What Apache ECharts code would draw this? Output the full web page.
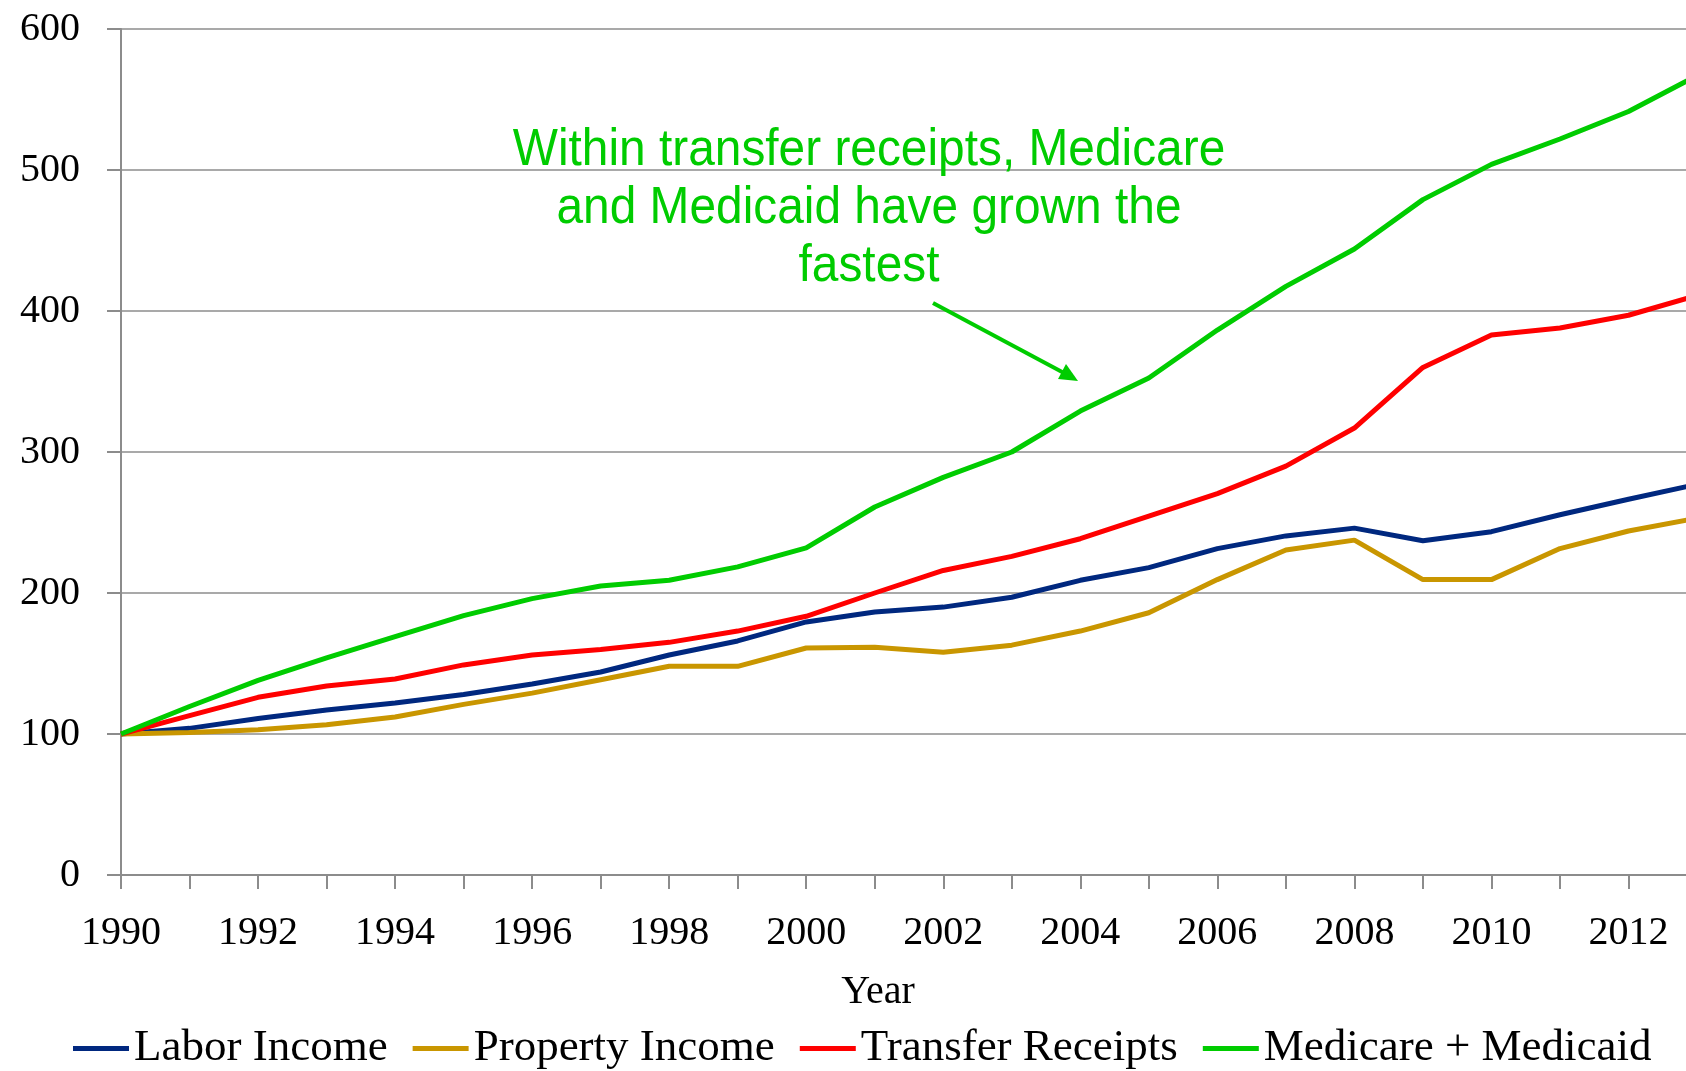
<!DOCTYPE html>
<html>
<head>
<meta charset="utf-8">
<title>Income growth index</title>
<style>
    html, body { margin: 0; padding: 0; background: #fff; }
    #container { width: 1686px; height: 1071px; }
</style>
</head>
<body>
<div id="container"></div>
<script src="https://cdn.jsdelivr.net/npm/echarts@6/dist/echarts.min.js"></script>
<script>
    // index, 1990 = 100
    var years = [];
    for (var y = 1990; y <= 2013; y++) years.push(String(y));

    var laborIncome    = [100, 104, 111, 117, 122, 128, 135.5, 144, 156, 166, 179.5, 186.5, 190, 197, 209, 218, 231.5, 240.5, 246, 237, 243.5, 255.5, 266.5, 277];
    var propertyIncome = [100, 101, 103, 106.5, 112, 121, 129, 138.5, 148, 148, 161, 161.5, 158, 163, 173, 186, 209.5, 230.5, 237.5, 209.5, 209.5, 231.5, 244, 253];
    var transferRec    = [100, 113, 126, 134, 139, 149, 156, 160, 165, 173, 183.5, 200, 216, 226, 238.5, 254.5, 270.5, 290, 317, 360, 383, 388, 397, 411];
    var medicareMed    = [100, 119.5, 138, 154, 169, 184, 196, 205, 209, 218.5, 232, 261, 282, 300, 329, 352.5, 386.5, 417.5, 444, 479, 504, 522, 541.5, 567];

    var seriesNames  = ['Labor Income', 'Property Income', 'Transfer Receipts', 'Medicare + Medicaid'];
    var seriesColors = ['#00287f', '#c99600', '#ff0000', '#00cc00'];
    var seriesData   = [laborIncome, propertyIncome, transferRec, medicareMed];

    var noteLines = ['Within transfer receipts, Medicare', 'and Medicaid have grown the', 'fastest'];

    var serif = '"Liberation Serif", "Times New Roman", serif';
    var sans = '"Liberation Sans", Arial, sans-serif';
    var gray = '#8c8c8c';

    var myChart = echarts.init(document.getElementById('container'));

    var series = seriesNames.map(function (name, i) {
        return {
            name: name,
            type: 'line',
            data: seriesData[i],
            symbol: 'none',
            lineStyle: { width: 5, color: seriesColors[i] },
            itemStyle: { color: seriesColors[i] }
        };
    });

    // note text, squeezed a bit to look like a narrow face
    var note = noteLines.map(function (t, i) {
        return {
            type: 'text',
            z: 100,
            x: 869,
            y: 151 + i * 58,
            scaleX: 0.92,
            style: {
                text: t,
                x: 0,
                y: 0,
                textAlign: 'center',
                textVerticalAlign: 'middle',
                fill: '#00cc00',
                font: '52px ' + sans
            }
        };
    });

    // arrow pointing at the green line
    note.push({
        type: 'line',
        z: 100,
        shape: { x1: 933, y1: 303, x2: 1064, y2: 373 },
        style: { stroke: '#00cc00', lineWidth: 4 }
    });
    note.push({
        type: 'polygon',
        z: 100,
        shape: { points: [[1078, 381], [1058, 379], [1066, 364]] },
        style: { fill: '#00cc00' }
    });

    var option = {
        animation: false,
        color: seriesColors,
        grid: {
            left: 121,
            top: 29,
            width: 1576,
            height: 846,
            outerBoundsMode: 'none',
            containLabel: false
        },
        legend: {
            data: seriesNames,
            left: 73,
            top: 1026,
            padding: 0,
            itemGap: 25,
            itemWidth: 56,
            itemHeight: 5,
            icon: 'rect',
            textStyle: { fontFamily: serif, fontSize: 45, color: '#000' }
        },
        xAxis: {
            type: 'category',
            data: years,
            boundaryGap: false,
            name: 'Year',
            nameLocation: 'middle',
            nameGap: 97,
            nameTextStyle: { fontFamily: serif, fontSize: 40, color: '#000', padding: [0, 62, 0, 0] },
            axisLine: { lineStyle: { color: gray, width: 2 } },
            axisTick: { show: true, interval: 0, length: 14, lineStyle: { color: gray, width: 2 } },
            axisLabel: { interval: 1, margin: 38, fontFamily: serif, fontSize: 40, color: '#000' },
            splitLine: { show: false }
        },
        yAxis: {
            type: 'value',
            min: 0,
            max: 600,
            interval: 100,
            axisLine: { show: true, lineStyle: { color: gray, width: 2 } },
            axisTick: { show: true, length: 14, lineStyle: { color: gray, width: 2 } },
            axisLabel: { margin: 41, fontFamily: serif, fontSize: 40, color: '#000' },
            splitLine: { show: true, lineStyle: { color: gray, width: 1.5 } }
        },
        graphic: note,
        series: series
    };

    myChart.setOption(option);
</script>
</body>
</html>
